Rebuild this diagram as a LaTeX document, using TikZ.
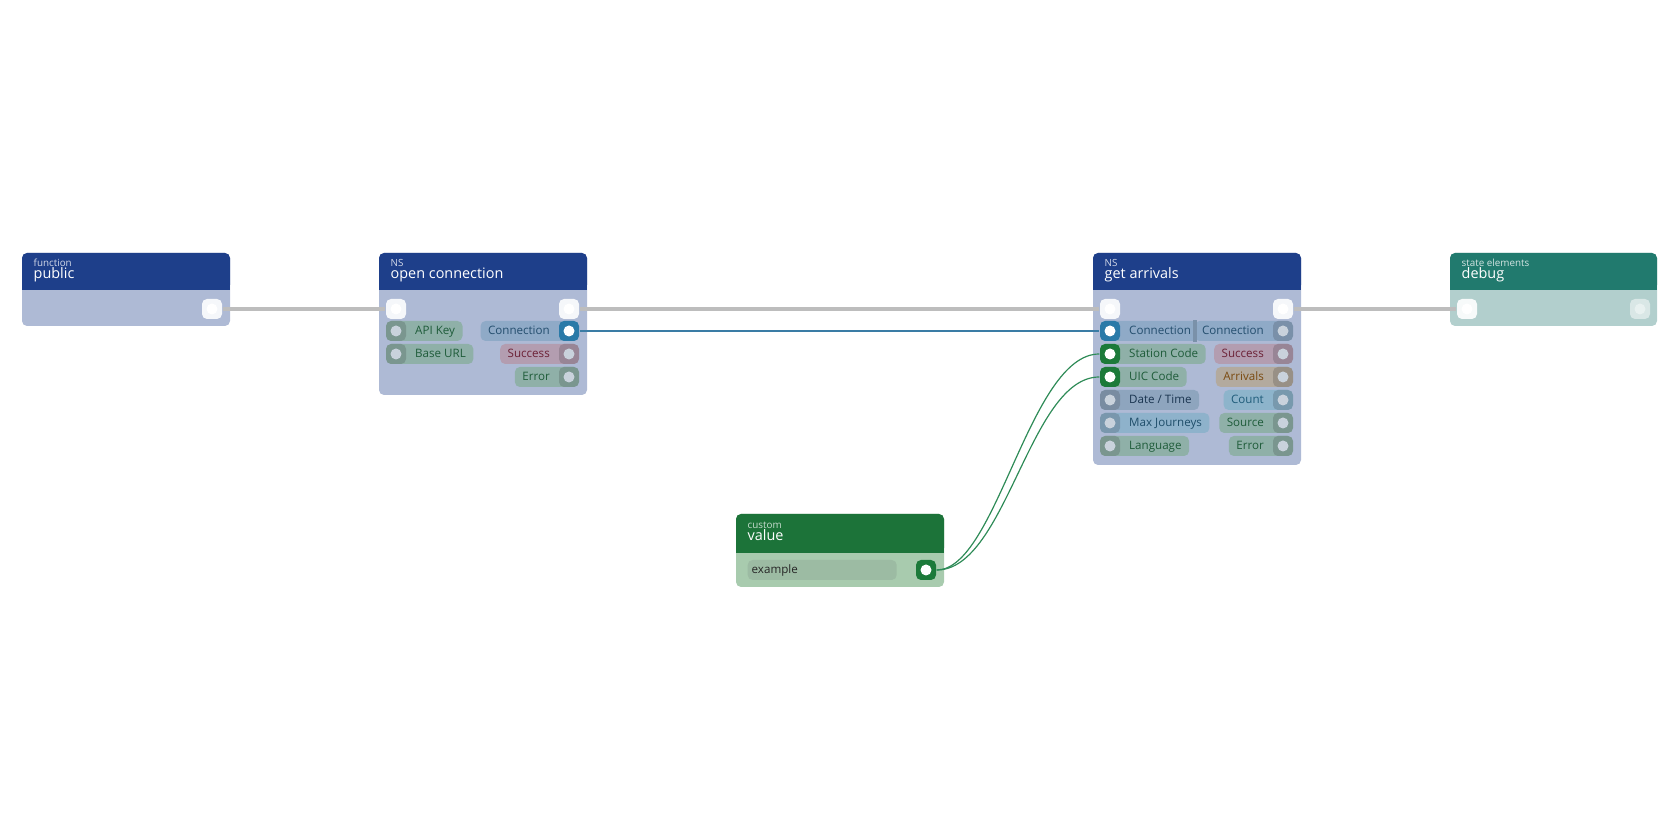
\documentclass[tikz,border=0pt]{standalone}
\usepackage{fontspec}
\setmainfont{Open Sans}
\usetikzlibrary{positioning}

\definecolor{hdrblue}{HTML}{1E3F8A}
\definecolor{bodyblue}{HTML}{AEBAD5}
\definecolor{hdrteal}{HTML}{217A6E}
\definecolor{bodyteal}{HTML}{B2CFCD}
\definecolor{hdrgreen}{HTML}{1C7339}
\definecolor{bodygreen}{HTML}{A8CBAE}
\definecolor{grnpill}{HTML}{8FB0A8}
\definecolor{grntxt}{HTML}{1F5C3A}
\definecolor{bluepill}{HTML}{8FAAC7}
\definecolor{bluetxt}{HTML}{244E6E}
\definecolor{pinkpill}{HTML}{B39DB0}
\definecolor{pinktxt}{HTML}{6B2035}
\definecolor{tanpill}{HTML}{B3AA9E}
\definecolor{tantxt}{HTML}{7A4A10}
\definecolor{cntpill}{HTML}{8DB4CB}
\definecolor{cnttxt}{HTML}{1F5C7A}
\definecolor{datepill}{HTML}{8EA5BE}
\definecolor{datetxt}{HTML}{1A3550}
\definecolor{maxpill}{HTML}{8EB2CB}
\definecolor{maxtxt}{HTML}{1F4E6A}
\definecolor{expill}{HTML}{9CBBA3}
\definecolor{flowline}{HTML}{BDBDBD}
\definecolor{connline}{HTML}{3A7CA5}
\definecolor{valline}{HTML}{2E8B57}
\definecolor{connport}{HTML}{2A7AA8}
\definecolor{valport}{HTML}{1C7A3A}
\definecolor{dotgray}{HTML}{C9D2DC}

\newcommand{\lblfont}{\fontsize{3.3pt}{3.6pt}\selectfont}
\newcommand{\ttlfont}{\fontsize{4.1pt}{4.4pt}\selectfont}
\newcommand{\capfont}{\fontsize{2.8pt}{3pt}\selectfont}

\begin{document}
\begin{tikzpicture}[x=0.1mm, y=-0.1mm,
    port/.style={minimum size=2mm, inner sep=0, rounded corners=0.5mm,
      path picture={\fill[#1] (path picture bounding box.center) circle (0.55mm);}},
    flowport/.style={port=white, fill=white!88!bodyblue},
    pill/.style={rounded corners=0.5mm, minimum height=2mm, inner xsep=0.75mm,
      inner ysep=0, font=\lblfont, text height=2.4pt, text depth=0.65pt},
    inpill/.style={pill, anchor=west, execute at begin node=\hspace*{2.1mm}},
    outpill/.style={pill, anchor=east, execute at end node=\hspace*{2.1mm}},
    hdrcap/.style={anchor=base west, inner sep=0, text=white!80!hdrblue, font=\capfont},
    title/.style={anchor=base west, inner sep=0, text=white, font=\ttlfont}]

\useasboundingbox (0,0) rectangle (1680,840);

    %% public
    \fill[bodyblue, rounded corners=0.5mm] (22,253) rectangle (230,326);
    \fill[hdrblue, rounded corners=0.5mm] (22,253) rectangle (230,290);
    \fill[hdrblue] (22,280) rectangle (230,290);
    \node[hdrcap] (pubcap) at (33,267) {function};
    \node[title] (pubtitle) at (33,278.5) {public};
    \node[flowport] (pubout) at (212,309) {};

    %% open connection
    \fill[bodyblue, rounded corners=0.5mm] (379,253) rectangle (587,395);
    \fill[hdrblue, rounded corners=0.5mm] (379,253) rectangle (587,290);
    \fill[hdrblue] (379,280) rectangle (587,290);
    \node[hdrcap] (occap) at (390,267) {NS};
    \node[title] (octitle) at (390,278.5) {open connection};
    \node[flowport] (ocin) at (396,309) {};
    \node[flowport] (ocout) at (569,309) {};
    \node[inpill, fill=grnpill, text=grntxt] (apikey) at (386,331) {API Key};
    \node[port=dotgray, fill=grnpill!85!black] (ocapi) at (396,331) {};
    \node[inpill, fill=grnpill, text=grntxt] (baseurl) at (386,354) {Base URL};
    \node[port=dotgray, fill=grnpill!85!black] (ocurl) at (396,354) {};
    \node[outpill, fill=bluepill, text=bluetxt] (occonn) at (579,331) {Connection};
    \node[port=white, fill=connport] (occonnout) at (569,331) {};
    \node[outpill, fill=pinkpill, text=pinktxt] (ocsucc) at (579,354) {Success};
    \node[port=dotgray, fill=pinkpill!85!black] (ocsuccout) at (569,354) {};
    \node[outpill, fill=grnpill, text=grntxt] (ocerr) at (579,377) {Error};
    \node[port=dotgray, fill=grnpill!85!black] (ocerrout) at (569,377) {};

    %% get arrivals
    \fill[bodyblue, rounded corners=0.5mm] (1093,253) rectangle (1301,465);
    \fill[hdrblue, rounded corners=0.5mm] (1093,253) rectangle (1301,290);
    \fill[hdrblue] (1093,280) rectangle (1301,290);
    \node[hdrcap] (gacap) at (1104,267) {NS};
    \node[title] (gatitle) at (1104,278.5) {get arrivals};
    \node[flowport] (gain) at (1110,309) {};
    \node[flowport] (gaout) at (1283,309) {};
    % outputs
    \node[outpill, fill=bluepill, text=bluetxt] (gaconnr) at (1293,331) {Connection};
    \node[port=dotgray, fill=bluepill!85!black] (gaconnout) at (1283,331) {};
    \node[outpill, fill=pinkpill, text=pinktxt] (gasucc) at (1293,354) {Success};
    \node[port=dotgray, fill=pinkpill!85!black] (gasuccout) at (1283,354) {};
    \node[outpill, fill=tanpill, text=tantxt] (gaarr) at (1293,377) {Arrivals};
    \node[port=dotgray, fill=tanpill!85!black] (gaarrout) at (1283,377) {};
    \node[outpill, fill=cntpill, text=cnttxt] (gacount) at (1293,400) {Count};
    \node[port=dotgray, fill=cntpill!85!black] (gacountout) at (1283,400) {};
    \node[outpill, fill=grnpill, text=grntxt] (gasrc) at (1293,423) {Source};
    \node[port=dotgray, fill=grnpill!85!black] (gasrcout) at (1283,423) {};
    \node[outpill, fill=grnpill, text=grntxt] (gaerr) at (1293,446) {Error};
    \node[port=dotgray, fill=grnpill!85!black] (gaerrout) at (1283,446) {};
    % inputs
    \node[inpill, fill=bluepill, text=bluetxt] (gaconnl) at (1100,331) {Connection};
    \node[port=white, fill=connport] (gaconnin) at (1110,331) {};
    \fill[bluepill!85!black] ([xshift=-0.1mm]gaconnr.north west) rectangle ([xshift=0.3mm]gaconnr.south west);
    \node[inpill, fill=grnpill, text=grntxt] (gastation) at (1100,354) {Station Code};
    \node[port=white, fill=valport] (gastationin) at (1110,354) {};
    \node[inpill, fill=grnpill, text=grntxt] (gauic) at (1100,377) {UIC Code};
    \node[port=white, fill=valport] (gauicin) at (1110,377) {};
    \node[inpill, fill=datepill, text=datetxt] (gadate) at (1100,400) {Date / Time};
    \node[port=dotgray, fill=datepill!85!black] (gadatein) at (1110,400) {};
    \node[inpill, fill=maxpill, text=maxtxt] (gamax) at (1100,423) {Max Journeys};
    \node[port=dotgray, fill=maxpill!85!black] (gamaxin) at (1110,423) {};
    \node[inpill, fill=grnpill, text=grntxt] (galang) at (1100,446) {Language};
    \node[port=dotgray, fill=grnpill!85!black] (galangin) at (1110,446) {};

    %% debug
    \fill[bodyteal, rounded corners=0.5mm] (1450,253) rectangle (1657,326);
    \fill[hdrteal, rounded corners=0.5mm] (1450,253) rectangle (1657,290);
    \fill[hdrteal] (1450,280) rectangle (1657,290);
    \node[hdrcap, text=white!80!hdrteal] (dbgcap) at (1461,267) {state elements};
    \node[title] (dbgtitle) at (1461,278.5) {debug};
    \node[flowport, fill=white!90!bodyteal] (dbgin) at (1467,309) {};
    \node[port=white!70!bodyteal, fill=white!50!bodyteal] (dbgout) at (1640,309) {};

    %% value
    \fill[bodygreen, rounded corners=0.5mm] (736,514) rectangle (944,587);
    \fill[hdrgreen, rounded corners=0.5mm] (736,514) rectangle (944,553);
    \fill[hdrgreen] (736,543) rectangle (944,553);
    \node[hdrcap, text=white!75!hdrgreen] (valcap) at (747,529) {custom};
    \node[title] (valtitle) at (747,540.5) {value};
    \node[pill, anchor=west, fill=expill, minimum width=14.9mm, inner xsep=0.4mm,
      text=black!85, align=left, text width=14.1mm] (example) at (747,570) {example};
    \node[port=white, fill=valport] (valout) at (926,570) {};

    % connectors
    \draw[flowline, line width=0.4mm] (pubout.east) -- (ocin.west);
    \draw[flowline, line width=0.4mm] (ocout.east) -- (gain.west);
    \draw[flowline, line width=0.4mm] (gaout.east) -- (dbgin.west);
    \draw[connline, line width=0.12mm] (occonnout.east) -- (gaconnin.west);
    \draw[valline, line width=0.12mm] (valout.east) .. controls +(60,0) and +(-70,0) .. (gastationin.west);
    \draw[valline, line width=0.12mm] (valout.east) .. controls +(70,0) and +(-70,0) .. (gauicin.west);
\end{tikzpicture}
\end{document}
